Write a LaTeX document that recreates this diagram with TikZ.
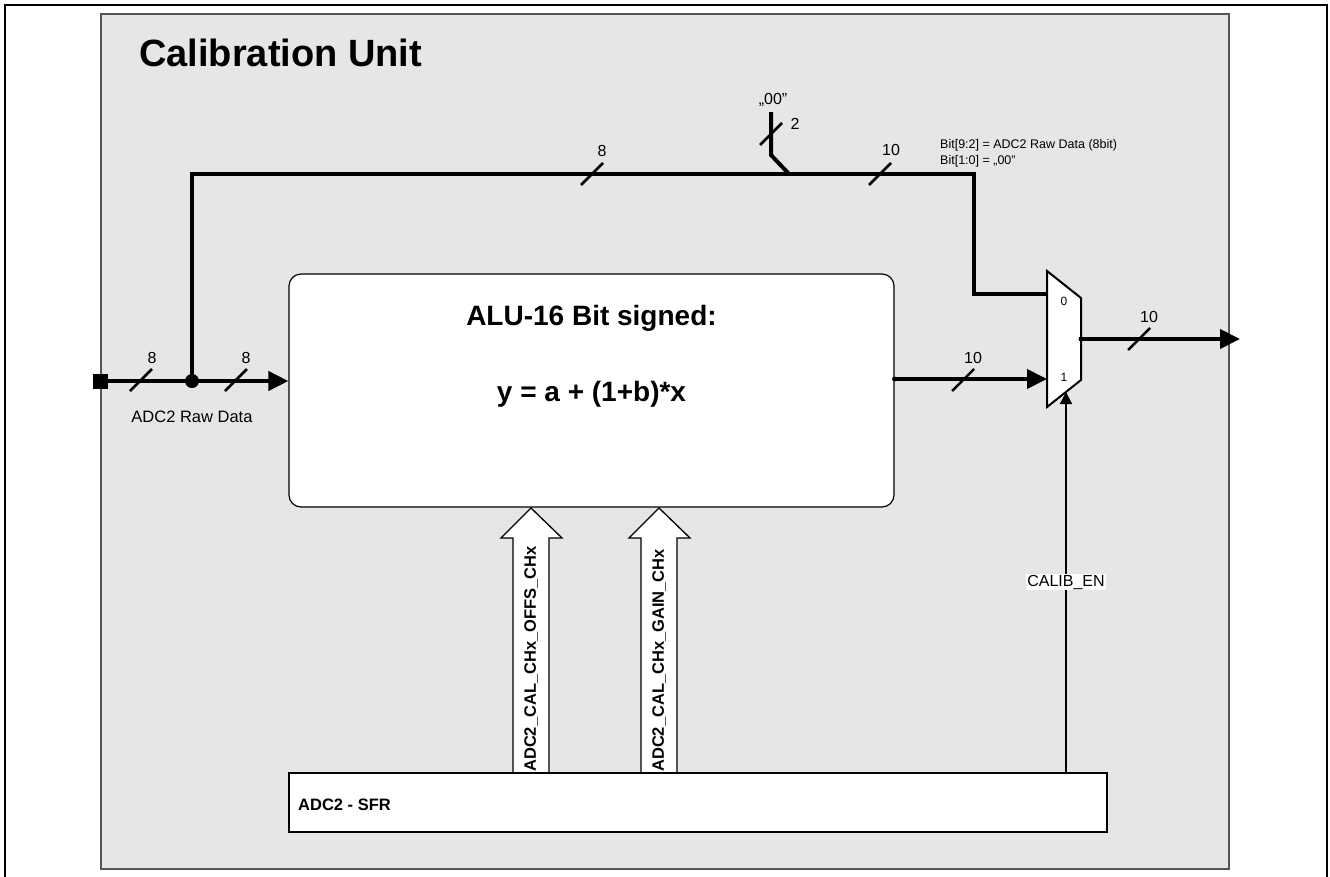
\documentclass[tikz,border=0pt]{standalone}
\usepackage{fontspec}
\setmainfont{Liberation Sans}
\usetikzlibrary{arrows.meta,calc}
\definecolor{panel}{HTML}{E6E6E6}
\definecolor{panelline}{HTML}{555555}
\newcommand{\sq}{{\char34}}
\begin{document}
\begin{tikzpicture}[x=1pt,y=-1pt,
  bus/.style={line width=4pt},
  wire/.style={line width=1.5pt},
  busarrow/.style={bus,-{Triangle[length=20pt,width=19pt]}},
  slashmark/.style={line width=2.5pt},
  numlbl/.style={font=\fontsize{16}{18}\selectfont, inner sep=0pt, anchor=base},
  smalllbl/.style={font=\fontsize{12.5}{14}\selectfont, inner sep=0pt, anchor=base west},
  reglbl/.style={font=\fontsize{16.5}{18}\selectfont\bfseries, inner sep=0pt, anchor=west, rotate=90},
  busmark/.pic={\draw[slashmark] (-11,11) -- (11,-11);},
  hollowarrow/.pic={\draw[line width=1.3pt, fill=white] (-18,0) -- (-18,-235) -- (-30,-235) -- (0,-265) -- (31,-235) -- (18,-235) -- (18,0);},
]
\useasboundingbox (0,0) rectangle (1330,876);
% outer frame
\draw[line width=1.5pt] (5,880) -- (5,5) -- (1327,5) -- (1327,880);
% panel
\node[draw=panelline, line width=1.5pt, fill=panel, minimum width=1128pt, minimum height=855pt, inner sep=0pt] (panel) at (665,441.5) {};
\node[font=\fontsize{38}{40}\selectfont\bfseries, inner sep=0pt, anchor=base west] (title) at (139,66) {Calibration Unit};

% ALU
\node[draw, line width=1.2pt, fill=white, rounded corners=12pt, minimum width=605pt, minimum height=233pt, inner sep=0pt] (alu) at (591.5,390.5) {};
\node[font=\fontsize{28}{30}\selectfont\bfseries, inner sep=0pt, anchor=base] (alut1) at (alu.center |- 0,325) {ALU-16 Bit signed:};
\node[font=\fontsize{28}{30}\selectfont\bfseries, inner sep=0pt, anchor=base] (alut2) at (alu.center |- 0,401) {y = a + (1+b)*x};

% hollow register arrows
\coordinate (offB) at (531,773);
\coordinate (gainB) at (659,773);
\pic at (offB) {hollowarrow};
\pic at (gainB) {hollowarrow};
\node[reglbl] (offl) at ($(offB)+(0,-1)$) {ADC2\_CAL\_CHx\_OFFS\_CHx};
\node[reglbl] (gainl) at ($(gainB)+(0,-1)$) {ADC2\_CAL\_CHx\_GAIN\_CHx};

% SFR
\node[draw, line width=1.2pt, fill=white, minimum width=818pt, minimum height=59pt, inner sep=0pt] (sfr) at (698,802.5) {};
\node[font=\fontsize{16.5}{18}\selectfont\bfseries, inner sep=0pt, anchor=base west] (sfrl) at (298,810) {ADC2 - SFR};

% MUX
\coordinate (mA) at (1047,271);
\coordinate (mB) at (1081,298);
\coordinate (mC) at (1081,380);
\coordinate (mD) at (1047,407);
\draw[line width=2pt, fill=white, line join=miter] (mA) -- (mB) -- (mC) -- (mD) -- cycle;
\coordinate (m0) at (1047,294);
\coordinate (m1) at (1047,379);
\coordinate (mout) at (1081,339);
\coordinate (msel) at (1066,392);
\node[font=\fontsize{12}{14}\selectfont, inner sep=0pt, anchor=base] (mux0) at (1064,305) {0};
\node[font=\fontsize{12}{14}\selectfont, inner sep=0pt, anchor=base] (mux1) at (1064,381) {1};

% input
\node[fill=black, minimum size=15pt, inner sep=0pt] (in) at (100,381) {};
\coordinate (dot) at (192,381);
\draw[busarrow] (in.center) -- (in.center -| alu.west);
\fill (dot) circle (7pt);
\node[font=\fontsize{16.5}{18}\selectfont, inner sep=0pt, anchor=base] (inl) at (192,422) {ADC2 Raw Data};
\pic at (141,380) {busmark};
\node[numlbl] at (152,363) {8};
\pic at (236,380) {busmark};
\node[numlbl] at (246,363) {8};

% bypass bus
\coordinate (corner) at (974,174);
\draw[bus] (dot) |- (corner) |- (m0);
\coordinate (zz) at (771,112);
\coordinate (zj) at (789,174);
\draw[bus, line join=miter] (zz) -- (771,155) -- (zj);
\node[font=\fontsize{16}{18}\selectfont, inner sep=0pt, anchor=base] (zzl) at (773,104) {„00\sq};
\pic at (771,134) {busmark};
\node[numlbl] at (795,129) {2};
\pic at (592,174) {busmark};
\node[numlbl] at (602,156) {8};
\pic at (880,174) {busmark};
\node[numlbl] at (891,155) {10};
\node[smalllbl] (bit1) at (940,148) {Bit[9:2] = ADC2 Raw Data (8bit)};
\node[smalllbl] (bit2) at (940,164) {Bit[1:0] = „00\sq};

% ALU to mux
\draw[busarrow] (alu.east |- m1) -- (m1);
\fill (alu.east |- m1) circle (2.5pt);
\pic at (963,380) {busmark};
\node[numlbl] at (973,363) {10};

% mux output
\coordinate (outE) at (1240,339);
\draw[busarrow] (mout) -- (outE);
\fill (mout) circle (2.5pt);
\pic at (1139,339) {busmark};
\node[numlbl] at (1149,322) {10};

% CALIB_EN
\draw[wire, -{Triangle[length=12pt,width=12pt]}] (sfr.north -| msel) -- (msel);
\node[fill=white, font=\fontsize{16}{18}\selectfont, inner sep=1pt] (cal) at (1066,582) {CALIB\_EN};
\end{tikzpicture}
\end{document}
